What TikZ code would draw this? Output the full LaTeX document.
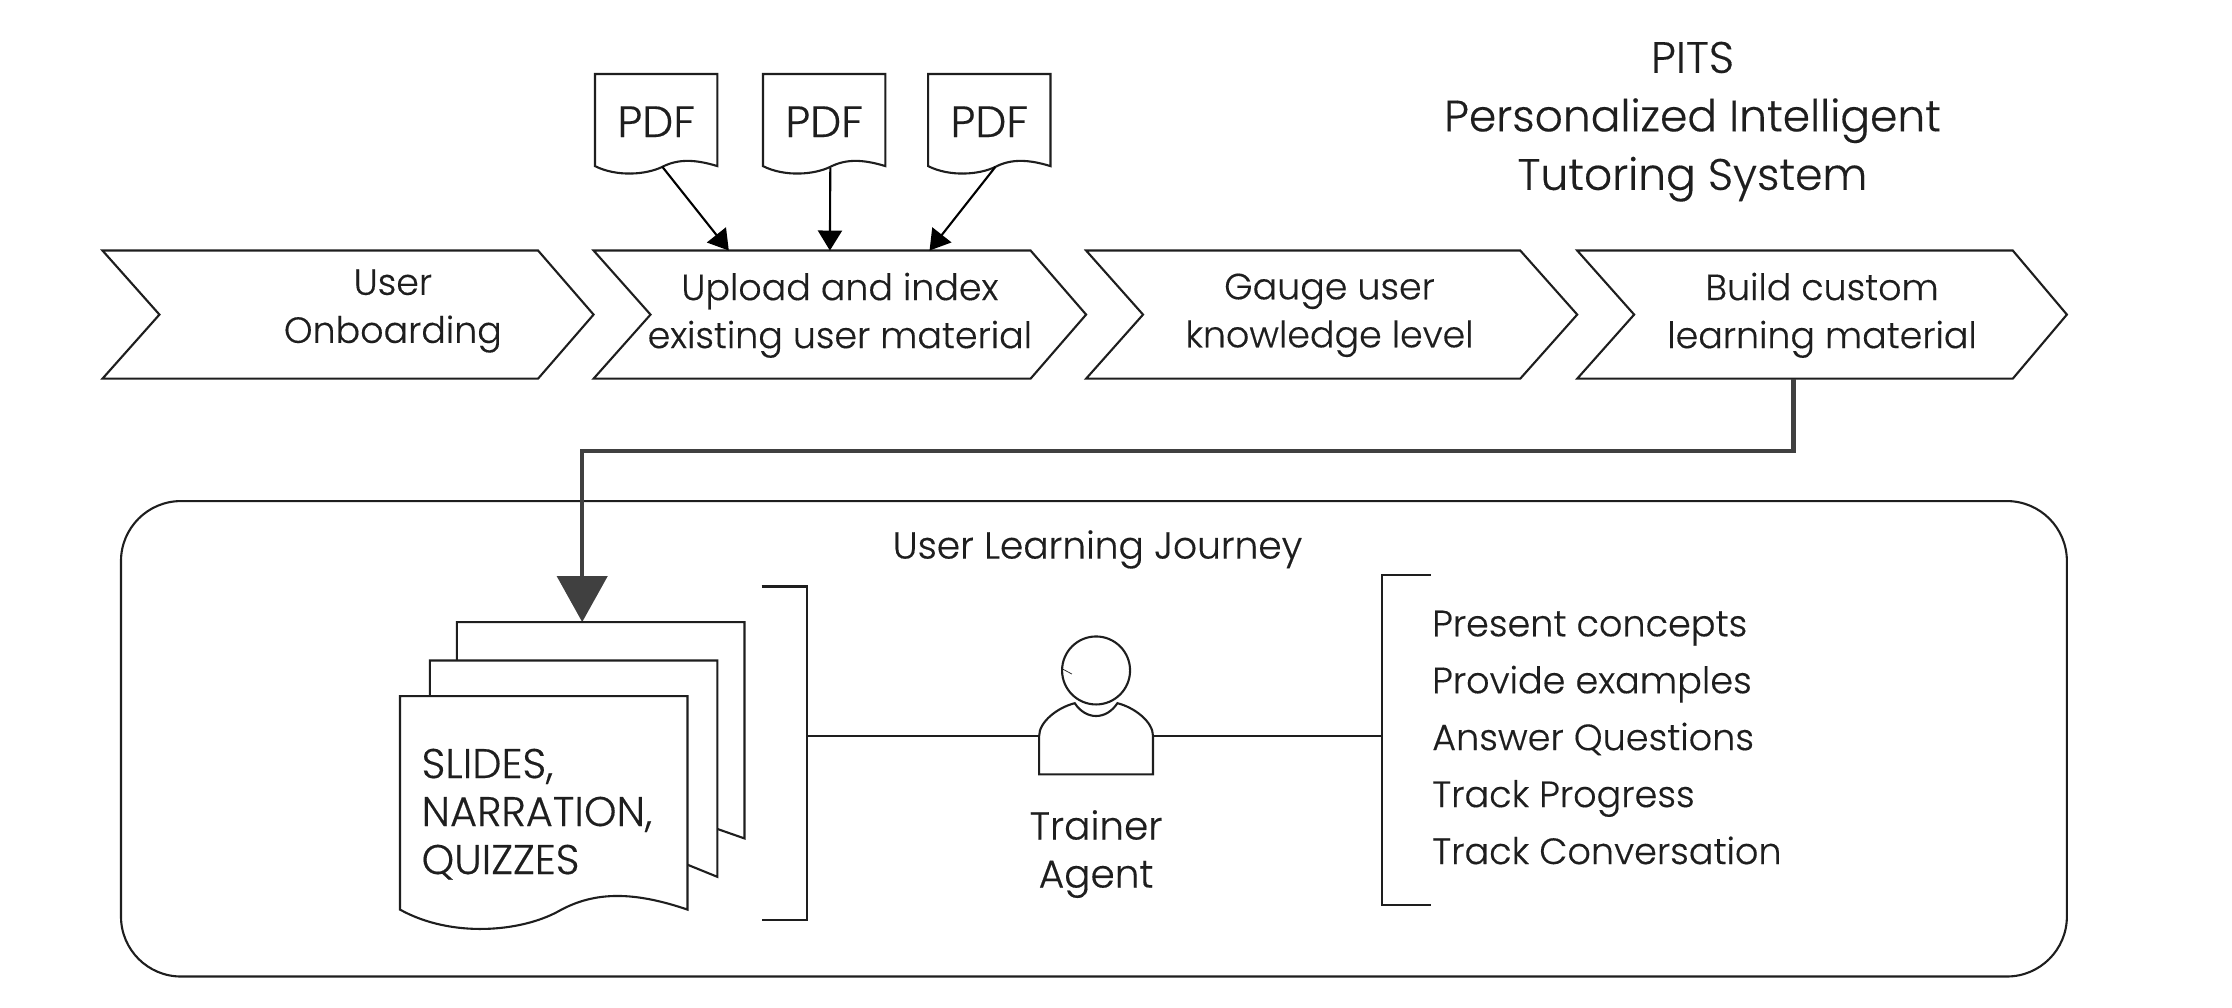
\documentclass[tikz,border=0pt]{standalone}
\usepackage{fontspec}
\setmainfont{Poppins}[UprightFont=* Light,RawFeature={embolden=0.35}]
\usetikzlibrary{arrows.meta,calc}
\definecolor{ink}{HTML}{1E1E1E}
\definecolor{thickink}{HTML}{404040}
\newcommand{\chevron}[5]{% left notch topright tip name
  \draw[shapeline] (#1,176) -- (#3,176) -- (#4,221) -- (#3,266) -- (#1,266) -- (#2,221) -- cycle;
  \coordinate (#5) at (#2,221);
}
\newcommand{\docpath}[6]{% x ytop w y0 d name
  \draw[shapeline,fill=white] (#1,#2) -- ({#1+#3},#2) -- ({#1+#3},#4)
    .. controls ({#1+.82*#3},{#4-.95*#5}) and ({#1+.68*#3},{#4-1.05*#5}) .. ({#1+.55*#3},{#4+.1*#5})
    .. controls ({#1+.42*#3},{#4+1.2*#5}) and ({#1+.18*#3},{#4+1.55*#5}) .. (#1,#4) -- cycle;
  \coordinate (#6) at ({#1+.55*#3},{#4+.1*#5});
}
\tikzset{
  x=1.4235pt,y=-1.4235pt,
  shapeline/.style={draw=ink,line width=2.1pt,line join=miter},
  thinline/.style={draw=ink,line width=2.1pt},
  feed/.style={draw=black,line width=2.1pt,-{Triangle[length=20pt,width=24pt]}},
  main/.style={draw=thickink,line width=4.4pt,-{Triangle[length=46pt,width=50pt]}},
  lab/.style={inner sep=0pt,text=ink,align=center,font=\fontsize{36.4}{48}\selectfont},
  listlab/.style={inner sep=0pt,text=ink,anchor=base west,font=\fontsize{36.6}{48}\selectfont},
}
\begin{document}
\begin{tikzpicture}
\useasboundingbox (0,0) rectangle (1568,708);
% process chevrons
\chevron{72}{112}{378}{417}{c1}
\chevron{417}{457}{724}{763}{c2}
\chevron{763}{803}{1068}{1108}{c3}
\chevron{1108}{1148}{1414}{1452}{c4}
\node[lab] (t1) at (276,218.5) {User\\Onboarding};
\node[lab] (t2) at (590,221.5) {Upload and index\\existing user material};
\node[lab] (t3) at (934,221.5) {Gauge user\\knowledge level};
\node[lab] (t4) at (1280,221.5) {Build custom\\learning material};
% title
\node[lab,font=\fontsize{44}{58.5}\selectfont] (title) at (1189,85.5) {PITS\\Personalized Intelligent\\Tutoring System};
% pdf docs
\docpath{418}{52}{86}{116.7}{5}{d1}
\docpath{536}{52}{86}{116.7}{5}{d2}
\docpath{652}{52}{86}{116.7}{5}{d3}
\node[lab,font=\fontsize{44}{48}\selectfont] (p1) at (461,85.5) {PDF};
\node[lab,font=\fontsize{44}{48}\selectfont] (p2) at (579,85.5) {PDF};
\node[lab,font=\fontsize{44}{48}\selectfont] (p3) at (695,85.5) {PDF};
\coordinate (e1) at (512,176);
\coordinate (e2) at (583,176);
\coordinate (e3) at (653,176);
\draw[feed] (d1) -- (e1);
\draw[feed] (d2 |- 0,118) -- (e2);
\draw[feed] (d3) -- (e3);
% journey box
\draw[shapeline,rounded corners=60pt] (85,352) rectangle (1452,686);
\node[lab,font=\fontsize{37.6}{48}\selectfont] (journey) at (771,386) {User Learning Journey};
% main connector
\coordinate (m0) at (1260,266);
\coordinate (m1) at (409,437);
\draw[main] (m0) -- (1260,317) -- (409,317) -- (m1);
% stacked pages
\draw[shapeline,fill=white] (321,437) -- (523,437) -- (523,589) -- (440,560) -- (321,560) -- cycle;
\draw[shapeline,fill=white] (302,464) -- (504,464) -- (504,616) -- (440,590) -- (302,590) -- cycle;
\docpath{281}{489}{202}{639}{13}{d4}
\node[lab,anchor=west,align=left,font=\fontsize{41.5}{48}\selectfont] (slides) at (296,572) {SLIDES,\\NARRATION,\\QUIZZES};
% brackets
\coordinate (b1) at (567,517);
\coordinate (b2) at (971,517);
\draw[thinline] (535,412) -- (567,412) -- (567,646) -- (535,646);
\draw[thinline] (1005,404) -- (971,404) -- (971,636) -- (1005,636);
% person
\node[circle,draw=ink,line width=2.1pt,minimum size=68pt,inner sep=0pt] (head) at (770,471) {};
\draw[draw=ink,line width=.7pt] (746.5,470) -- (753,473.5);
\draw[shapeline] (730,544) -- (730,517)
  .. controls (730,507) and (743,497) .. (755,494)
  .. controls (763,506) and (777,506) .. (785,494)
  .. controls (797,497) and (810,507) .. (810,517)
  -- (810,544) -- cycle;
\coordinate (pl) at (730,517);
\coordinate (pr) at (810,517);
\draw[thinline] (b1) -- (pl);
\draw[thinline] (pr) -- (b2);
\node[lab,font=\fontsize{39}{48}\selectfont] (agent) at (770,600) {Trainer\\Agent};
% activities
\node[listlab] (a1) at (1006,447) {Present concepts};
\node[listlab] (a2) at (1006,487) {Provide examples};
\node[listlab] (a3) at (1006,527) {Answer Questions};
\node[listlab] (a4) at (1006,567) {Track Progress};
\node[listlab] (a5) at (1006,607) {Track Conversation};
\end{tikzpicture}
\end{document}
